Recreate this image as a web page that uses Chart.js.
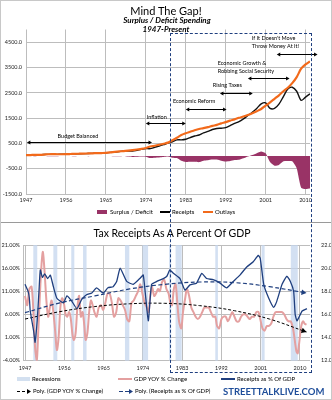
<!DOCTYPE html>
<html>
<head>
<meta charset="utf-8">
<script src="https://cdn.jsdelivr.net/npm/chart.js@4.4.0/dist/chart.umd.min.js"></script>
<style>
html, body { margin: 0; padding: 0; background: #fff; }
#wrap { position: relative; width: 332px; height: 400px; overflow: hidden; font-family: Lato, 'Open Sans', sans-serif; }
#wrap canvas { position: absolute; left: 0; }
.t { position: absolute; white-space: nowrap; color: #000; line-height: 1; }
.c { transform: translateX(-50%); }
.lg { position: absolute; font-size: 6px; white-space: nowrap; line-height: 1; }
.sw { position: absolute; }
#box { position: absolute; left: 170px; top: 33px; width: 142px; height: 340px; border: 1px dashed #1f3f7f; box-sizing: border-box; pointer-events: none; }
#sep { position: absolute; left: 0; top: 222px; width: 332px; height: 1px; background: #9a9a9a; }
#frame { position: absolute; left: 0; top: 0; width: 332px; height: 400px; border: 1px solid #c8c8c8; box-sizing: border-box; }
</style>
</head>
<body>
<div id="wrap">
  <canvas id="topChart" width="332" height="222" style="top:0"></canvas>
  <canvas id="botChart" width="332" height="178" style="top:222px"></canvas>

  <div class="t c" style="left:166px;top:5px;font-size:11px;">Mind The Gap!</div>
  <div class="t c" style="left:167px;top:16px;font-size:8px;font-weight:bold;font-style:italic;">Surplus / Deficit Spending</div>
  <div class="t c" style="left:166px;top:25px;font-size:8px;font-weight:bold;font-style:italic;">1947-Present</div>

  <!-- legende oben -->
  <div class="sw" style="left:97px;top:210px;width:10px;height:4px;background:#993366"></div>
  <div class="lg" style="left:110px;top:209px">Surplus / Deficit</div>
  <div class="sw" style="left:160px;top:211px;width:10px;height:2px;background:#000"></div>
  <div class="lg" style="left:172px;top:209px">Receipts</div>
  <div class="sw" style="left:203px;top:211px;width:10px;height:2px;background:#f26a1b"></div>
  <div class="lg" style="left:215px;top:209px">Outlays</div>

  <div id="sep"></div>
  <div class="t c" style="left:172px;top:228px;font-size:10.5px;">Tax Receipts As A Percent Of GDP</div>

  <!-- legende unten -->
  <div class="sw" style="left:17px;top:377px;width:13px;height:4px;background:#d3e0f0"></div>
  <div class="lg" style="left:32px;top:376px">Recessions</div>
  <div class="sw" style="left:118px;top:378px;width:14px;height:2px;background:#e4a0a0"></div>
  <div class="lg" style="left:134px;top:376px">GDP YOY % Change</div>
  <div class="sw" style="left:221px;top:378px;width:14px;height:1.5px;background:#1f3f7f"></div>
  <div class="lg" style="left:237px;top:376px">Receipts as % Of GDP</div>
  <canvas id="lgArrows" width="332" height="12" style="top:385px"></canvas>
  <div class="lg" style="left:33px;top:388px">Poly. (GDP YOY % Change)</div>
  <div class="lg" style="left:135px;top:388px">Poly. (Receipts as % Of GDP)</div>
  <div class="t" style="left:223px;top:387px;font-size:9.5px;font-weight:bold;color:#1f4e9a;">STREETTALKLIVE.COM</div>

  <div id="box"></div>
  <div id="frame"></div>
</div>

<script>
// ---- Daten oben: Bundeshaushalt, Mrd. USD ----
var topYears = [1947,1948,1949,1950,1951,1952,1953,1954,1955,1956,1957,1958,1959,1960,1961,1962,1963,1964,1965,1966,
  1967,1968,1969,1970,1971,1972,1973,1974,1975,1976,1977,1978,1979,1980,1981,1982,1983,1984,1985,1986,
  1987,1988,1989,1990,1991,1992,1993,1994,1995,1996,1997,1998,1999,2000,2001,2002,2003,2004,2005,2006,
  2007,2008,2009,2010,2011];
var receipts = [40,42,39,48,62,66,69,64,72,78,82,79,89,96,98,106,114,116,125,143,
  152,176,199,193,199,230,262,292,293,345,392,448,510,560,640,640,665,730,790,830,
  915,975,1050,1090,1100,1120,1200,1290,1360,1470,1600,1730,1880,2060,2100,1880,1880,2050,2350,2650,
  2720,2560,2200,2330,2460];
var outlays = [36,40,46,48,57,70,76,71,70,73,80,88,92,95,102,109,114,119,125,142,
  165,184,196,214,235,258,280,318,375,408,445,485,530,625,720,830,900,960,1020,1070,
  1100,1140,1190,1230,1290,1340,1400,1450,1510,1560,1620,1690,1770,1860,1990,2120,2260,2400,2560,2700,
  2880,3120,3450,3620,3740];
var surplus = [5,3,-6,2,5,-4,-7,-6,2,5,2,-9,-3,1,-4,-3,0,-3,0,1,
  -13,-8,3,-21,-36,-28,-18,-26,-82,-63,-53,-37,-20,-65,-80,-190,-235,-230,-230,-240,
  -185,-165,-140,-140,-190,-220,-200,-160,-150,-90,-20,40,110,180,110,-240,-380,-350,-210,-200,
  -210,-480,-1250,-1300,-1280];
var topYTicks = [-1500,-500,500,1500,2500,3500,4500];
var xTickYears = [1947,1956,1965,1974,1983,1992,2001,2010];

// ---- Daten unten ----
var recStart = [1948.9,1953.5,1957.6,1960.3,1969.9,1973.9,1980.0,1981.5,1990.6,2001.2,2007.9];
var recEnd   = [1949.8,1954.4,1958.3,1961.1,1970.9,1975.2,1980.5,1982.9,1991.2,2001.9,2009.5];

var gdpYears = [1947.0,1947.5,1948.0,1948.5,1948.9,1949.3,1949.7,1950.0,1950.4,1950.8,1951.1,1951.5,1951.9,1952.3,1952.7,
  1953.1,1953.5,1953.9,1954.3,1954.7,1955.1,1955.5,1955.9,1956.3,1956.7,1957.1,1957.5,1957.9,1958.2,1958.6,
  1959.0,1959.4,1959.8,1960.2,1960.6,1960.9,1961.3,1961.7,1962.1,1962.5,1962.9,1963.4,1963.9,1964.4,1964.9,
  1965.4,1965.9,1966.4,1966.9,1967.4,1967.9,1968.4,1968.9,1969.4,1969.9,1970.4,1970.9,1971.4,1971.9,1972.4,
  1972.9,1973.4,1973.9,1974.4,1974.9,1975.3,1975.7,1976.1,1976.6,1977.0,1977.5,1977.9,1978.4,1978.9,1979.4,
  1979.9,1980.3,1980.7,1981.1,1981.5,1981.9,1982.3,1982.8,1983.2,1983.7,1984.1,1984.6,1985.1,1985.6,1986.1,
  1986.6,1987.1,1987.6,1988.1,1988.6,1989.1,1989.6,1990.1,1990.6,1991.0,1991.5,1992.0,1992.5,1993.0,1993.5,
  1994.0,1994.5,1995.0,1995.5,1996.0,1996.5,1997.0,1997.5,1998.0,1998.5,1999.0,1999.5,2000.0,2000.5,2000.9,
  2001.4,2001.9,2002.4,2002.9,2003.4,2003.9,2004.4,2004.9,2005.4,2005.9,2006.4,2006.9,2007.4,2007.9,2008.4,
  2008.8,2009.2,2009.5,2009.9,2010.3,2010.7,2011.1,2011.5];
var gdpYoy = [10.0,8.0,11.5,12.0,7.0,-1.0,-3.9,1.5,10.0,17.0,19.5,15.0,9.0,5.5,7.5,
  9.0,6.5,2.5,-1.7,1.0,7.5,9.5,8.5,6.0,5.5,6.5,5.0,1.5,0.5,2.0,
  7.5,10.0,5.5,6.5,3.5,0.5,2.0,6.5,9.0,8.0,6.5,5.5,7.5,8.0,7.0,
  8.5,10.5,10.5,8.5,5.5,6.5,9.5,9.0,8.0,7.0,5.0,4.5,8.5,9.0,10.0,
  11.0,12.5,10.5,8.5,7.5,6.5,10.0,12.0,10.0,10.5,11.5,11.0,13.0,13.5,11.5,
  10.5,8.5,8.0,11.5,12.5,8.5,4.5,3.0,6.5,9.5,11.5,10.0,7.5,6.5,5.5,
  5.0,5.5,6.5,7.5,7.5,7.5,6.5,5.5,5.5,3.5,3.0,5.0,5.5,5.5,4.5,
  5.5,6.5,5.5,4.5,4.5,5.5,6.0,6.0,5.5,5.0,5.5,5.5,6.5,6.5,5.0,
  3.0,2.5,3.5,3.5,4.0,5.5,6.5,6.5,6.5,6.5,6.0,5.0,4.5,4.5,3.0,
  0.5,-2.0,-2.4,0.5,3.5,4.5,4.0,3.8];

var rcpYears = [1947.0,1947.7,1948.0,1948.2,1949.0,1949.3,1949.8,1950.2,1950.5,1951.0,1951.5,1952.2,1952.8,1953.5,1954.3,
  1955.8,1956.6,1957.7,1958.9,1960.0,1961.1,1962.3,1963.4,1964.9,1966.0,1967.2,1968.0,1968.8,1970.3,1971.8,
  1973.3,1974.1,1975.25,1976.0,1977.2,1978.7,1979.5,1980.2,1981.0,1982.5,1983.65,1984.8,1986.3,1987.5,1988.6,
  1990.1,1991.7,1993.2,1994.7,1996.25,1997.8,1999.3,2000.45,2000.9,2001.7,2002.8,2004.0,2004.7,2005.9,2007.0,
  2007.8,2008.55,2008.9,2009.3,2009.7,2010.5,2011.6];
var rcpPct = [18.6,18.0,17.4,16.3,14.5,13.6,15.5,18.0,19.85,19.2,19.5,19.1,19.4,18.4,17.4,
  17.0,17.6,17.15,16.5,17.3,17.7,17.85,18.3,17.85,18.3,18.4,18.85,20.0,18.85,18.6,
  19.1,19.4,15.45,18.6,18.85,19.1,19.3,19.85,19.55,19.1,18.1,18.55,18.7,19.55,19.1,
  19.0,18.7,18.3,18.85,19.4,20.1,20.55,21.1,20.85,18.6,17.45,16.6,17.15,18.6,19.3,
  18.85,18.0,16.0,15.45,15.7,16.3,16.5];

var polyYears = [1947,1955,1963,1971,1979,1987,1995,2003,2011.5];
var polyGdp = [5.0,6.6,7.7,8.3,8.4,7.9,6.8,5.0,2.2];
var polyRcp = [16.15,17.0,17.6,18.2,18.6,18.8,18.75,18.4,17.85];

var gdpTicks = [-4,1,6,11,16,21];
var rcpTicks = [12,14,16,18,20,22];

// ---- Beschriftungen oben (Datenkoordinaten) ----
var notes = [
  { lines: ['Budget Balanced'], tx: 1958.7, ty: [775], center: true, a1: 1947.2, a2: 1975.4, ay: 538 },
  { lines: ['Inflation'], tx: 1974.2, ty: [1525], a1: 1974.0, a2: 1983.0, ay: 1310 },
  { lines: ['Economic Reform'], tx: 1980.1, ty: [2160], a1: 1983.0, a2: 1992.2, ay: 1840 },
  { lines: ['Rising Taxes'], tx: 1989.1, ty: [2790], a1: 1990.7, a2: 1998.1, ay: 2510 },
  { lines: ['Economic Growth &', 'Robbing Social Security'], tx: 1990.2, ty: [3660, 3345], a1: 1997.0, a2: 2006.4, ay: 3065 },
  { lines: ["If It Doesn't Move", 'Throw Money At It!'], tx: 1997.9, ty: [4650, 4330], a1: 2003.5, a2: 2012.7, ay: 4020 }
];

function pts(xs, ys) { return xs.map(function (x, i) { return { x: x, y: ys[i] }; }); }

function head(ctx, x, y, dir, size) {
  ctx.beginPath();
  ctx.moveTo(x, y);
  ctx.lineTo(x - dir * size, y - size * 0.6);
  ctx.lineTo(x - dir * size, y + size * 0.6);
  ctx.closePath();
  ctx.fill();
}

function headAng(ctx, x, y, ang, size) {
  ctx.save();
  ctx.translate(x, y);
  ctx.rotate(ang);
  ctx.beginPath();
  ctx.moveTo(0, 0);
  ctx.lineTo(-size, -size * 0.55);
  ctx.lineTo(-size, size * 0.55);
  ctx.closePath();
  ctx.fill();
  ctx.restore();
}

var tickFont = { family: 'Lato', size: 5.5 };
var gridCol = '#bdbdbd';

// Pfeile und Text oben
var annoPlugin = {
  id: 'anno',
  afterDatasetsDraw: function (chart) {
    var ctx = chart.ctx, xs = chart.scales.x, ys = chart.scales.y;
    ctx.save();
    ctx.fillStyle = '#000';
    ctx.strokeStyle = '#000';
    ctx.lineWidth = 1;
    ctx.font = '5.5px Lato';
    ctx.textBaseline = 'middle';
    notes.forEach(function (n) {
      ctx.textAlign = n.center ? 'center' : 'left';
      n.lines.forEach(function (t, i) {
        ctx.fillText(t, xs.getPixelForValue(n.tx), ys.getPixelForValue(n.ty[i]));
      });
      var x1 = xs.getPixelForValue(n.a1), x2 = xs.getPixelForValue(n.a2), y = Math.round(ys.getPixelForValue(n.ay)) + 0.5;
      ctx.beginPath();
      ctx.moveTo(x1 + 2, y);
      ctx.lineTo(x2 - 2, y);
      ctx.stroke();
      head(ctx, x1, y, -1, 3.5);
      head(ctx, x2, y, 1, 3.5);
    });
    ctx.restore();
  }
};

new Chart(document.getElementById('topChart'), {
  type: 'line',
  data: {
    datasets: [
      { label: 'Outlays', data: pts(topYears, outlays), borderColor: '#f26a1b', borderWidth: 2.2, pointRadius: 0, tension: 0.3, order: 0 },
      { label: 'Receipts', data: pts(topYears, receipts), borderColor: '#111', borderWidth: 1.4, pointRadius: 0, tension: 0.3, order: 1 },
      { label: 'Surplus / Deficit', data: pts(topYears, surplus), borderWidth: 0, backgroundColor: '#993366', fill: 'origin', pointRadius: 0, tension: 0.2, order: 2 }
    ]
  },
  options: {
    responsive: false, animation: false, events: [],
    layout: { padding: { left: 0, right: 22, top: 29.5, bottom: 18 } },
    plugins: { legend: { display: false }, tooltip: { enabled: false } },
    scales: {
      x: {
        type: 'linear', min: 1947, max: 2011,
        afterBuildTicks: function (s) { s.ticks = xTickYears.map(function (v) { return { value: v }; }); },
        afterFit: function (s) { s.height = 10; },
        grid: { color: gridCol, drawTicks: false },
        border: { display: false },
        ticks: { font: tickFont, color: '#222', padding: 3, maxRotation: 0, callback: function (v) { return String(v); } }
      },
      y: {
        min: -1500, max: 5000,
        afterBuildTicks: function (s) { s.ticks = topYTicks.map(function (v) { return { value: v }; }); },
        afterFit: function (s) { s.width = 26; },
        grid: { color: gridCol, drawTicks: false },
        border: { display: false },
        ticks: { font: tickFont, color: '#222', padding: 4, callback: function (v) { return v.toFixed(1); } }
      }
    }
  },
  plugins: [annoPlugin]
});

// Rezessionsbalken und Pfeilspitzen unten
var recPlugin = {
  id: 'rec',
  beforeDatasetsDraw: function (chart) {
    var ctx = chart.ctx, xs = chart.scales.x, a = chart.chartArea;
    ctx.save();
    ctx.fillStyle = 'rgba(196,214,238,0.75)';
    recStart.forEach(function (s, i) {
      var x1 = xs.getPixelForValue(s), x2 = xs.getPixelForValue(recEnd[i]);
      ctx.fillRect(x1, a.top, x2 - x1, a.bottom - a.top);
    });
    ctx.restore();
  },
  afterDatasetsDraw: function (chart) {
    var ctx = chart.ctx;
    [[2, '#000'], [3, '#1f3f7f']].forEach(function (d) {
      var meta = chart.getDatasetMeta(d[0]).data;
      var p = meta[meta.length - 1], q = meta[meta.length - 2];
      ctx.save();
      ctx.fillStyle = d[1];
      headAng(ctx, p.x, p.y, Math.atan2(p.y - q.y, p.x - q.x), 5);
      ctx.restore();
    });
  }
};

new Chart(document.getElementById('botChart'), {
  type: 'line',
  data: {
    datasets: [
      { label: 'Receipts as % Of GDP', data: pts(rcpYears, rcpPct), yAxisID: 'yR', borderColor: '#1f3f7f', borderWidth: 1.3, pointRadius: 0, tension: 0.15, order: 0 },
      { label: 'GDP YOY % Change', data: pts(gdpYears, gdpYoy), yAxisID: 'yL', borderColor: '#e4a0a0', borderWidth: 2, pointRadius: 0, tension: 0.3, order: 3 },
      { label: 'Poly. (GDP YOY % Change)', data: pts(polyYears, polyGdp), yAxisID: 'yL', borderColor: '#000', borderWidth: 1, borderDash: [3, 2], pointRadius: 0, tension: 0.4, order: 1 },
      { label: 'Poly. (Receipts as % Of GDP)', data: pts(polyYears, polyRcp), yAxisID: 'yR', borderColor: '#1f3f7f', borderWidth: 1.2, borderDash: [4, 2.5], pointRadius: 0, tension: 0.4, order: 1 }
    ]
  },
  options: {
    responsive: false, animation: false, events: [],
    layout: { padding: { left: 0, right: 0, top: 23, bottom: 29.3 } },
    plugins: { legend: { display: false }, tooltip: { enabled: false } },
    scales: {
      x: {
        type: 'linear', min: 1946.54, max: 2012.3,
        afterBuildTicks: function (s) { s.ticks = xTickYears.map(function (v) { return { value: v }; }); },
        afterFit: function (s) { s.height = 10; },
        grid: { color: gridCol, drawTicks: false },
        border: { display: false },
        ticks: { font: tickFont, color: '#222', padding: 4, maxRotation: 0, callback: function (v) { return String(v); } }
      },
      yL: {
        position: 'left', min: -4, max: 21,
        afterBuildTicks: function (s) { s.ticks = gdpTicks.map(function (v) { return { value: v }; }); },
        afterFit: function (s) { s.width = 23; },
        grid: { color: gridCol, drawTicks: false },
        border: { display: true, color: gridCol },
        ticks: { font: tickFont, color: '#222', padding: 3, callback: function (v) { return v.toFixed(2) + '%'; } }
      },
      yR: {
        position: 'right', min: 12, max: 22,
        afterBuildTicks: function (s) { s.ticks = rcpTicks.map(function (v) { return { value: v }; }); },
        afterFit: function (s) { s.width = 22; },
        grid: { display: false },
        border: { display: false },
        ticks: { font: tickFont, color: '#222', padding: 3, callback: function (v) { return v.toFixed(1) + '%'; } }
      }
    }
  },
  plugins: [recPlugin]
});

// Legendensymbole mit Pfeil
(function () {
  var c = document.getElementById('lgArrows').getContext('2d');
  [[17, '#000', [3, 2]], [119, '#1f3f7f', [4, 2]]].forEach(function (d) {
    c.strokeStyle = d[1]; c.fillStyle = d[1]; c.lineWidth = 1.2;
    c.setLineDash(d[2]);
    c.beginPath(); c.moveTo(d[0], 6.5); c.lineTo(d[0] + 10, 6.5); c.stroke();
    c.setLineDash([]);
    head(c, d[0] + 14, 6.5, 1, 4);
  });
})();
</script>
</body>
</html>
